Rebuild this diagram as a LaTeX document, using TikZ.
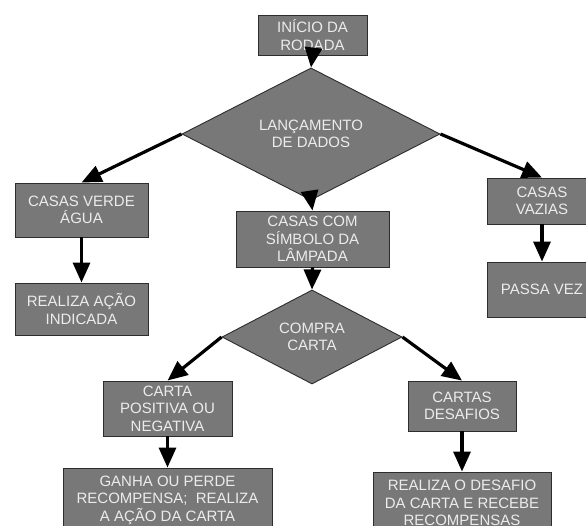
\documentclass[tikz,border=0pt]{standalone}
\usepackage{fontspec}
\setmainfont{Liberation Sans}
\usetikzlibrary{shapes.geometric,arrows.meta}
\definecolor{boxfill}{RGB}{120,120,120}
\definecolor{boxtext}{RGB}{236,236,236}
\definecolor{boxline}{RGB}{45,45,45}
\tikzset{
  base/.style={fill=boxfill,draw=boxline,line width=0.9pt,text=boxtext,
    font=\fontsize{15}{17.6}\selectfont,align=center,inner sep=0pt},
  procbox/.style={base,rectangle},
  decbox/.style={base,diamond},
  conn/.style={line width=3.2pt,-{Triangle[length=20pt,width=17pt]}},
}
\begin{document}
\begin{tikzpicture}[x=1pt,y=-1pt]
\useasboundingbox (0,0) rectangle (586,526);
\fill[white] (0,0) rectangle (586,526);
\clip (0,0) rectangle (586,526);
\node[procbox,minimum width=109pt,minimum height=40pt] (start) at (312.5,35) {INÍCIO DA\\RODADA};
\node[decbox,minimum width=258pt,minimum height=88pt] (dados) at (311,134) {LANÇAMENTO\\DE DADOS};
\node[procbox,minimum width=133pt,minimum height=54pt] (verde) at (81.5,210) {CASAS VERDE\\ÁGUA};
\node[procbox,minimum width=133pt,minimum height=52pt] (realiza) at (81.5,309) {REALIZA AÇÃO\\INDICADA};
\node[procbox,minimum width=110pt,minimum height=46pt] (vazias) at (542,201) {CASAS\\VAZIAS};
\node[procbox,minimum width=110pt,minimum height=55pt] (passa) at (542,289.5) {PASSA VEZ};
\node[procbox,minimum width=153pt,minimum height=56pt] (lampada) at (312.5,239) {CASAS COM\\SÍMBOLO DA\\LÂMPADA};
\node[decbox,minimum width=180pt,minimum height=76pt] (compra) at (312,337) {COMPRA\\CARTA};
\node[procbox,minimum width=129pt,minimum height=55pt] (positiva) at (167.5,408.5) {CARTA\\POSITIVA OU\\NEGATIVA};
\node[procbox,minimum width=108pt,minimum height=50pt] (desafios) at (462,406) {CARTAS\\DESAFIOS};
\node[procbox,minimum width=209pt,minimum height=64pt] (ganha) at (167.5,500) {GANHA OU PERDE\\RECOMPENSA;~ REALIZA\\A AÇÃO DA CARTA};
\node[procbox,minimum width=178pt,minimum height=62pt] (desafio) at (462,503) {REALIZA O DESAFIO\\DA CARTA E RECEBE\\RECOMPENSAS};
\draw[conn] (start.south) -- (dados.north);
\draw[conn] (dados.west) -- (verde.north);
\draw[conn] (dados.east) -- (vazias.north);
\draw[conn] (dados.south) -- (lampada.north);
\draw[conn] (verde.south) -- (realiza.north);
\draw[conn] (vazias.south) -- (passa.north);
\draw[conn] (lampada.south) -- (compra.north);
\draw[conn] (compra.west) -- (positiva.north);
\draw[conn] (compra.east) -- (desafios.north);
\draw[conn] (positiva.south) -- (ganha.north);
\draw[conn] (desafios.south) -- (desafio.north);
\end{tikzpicture}
\end{document}
